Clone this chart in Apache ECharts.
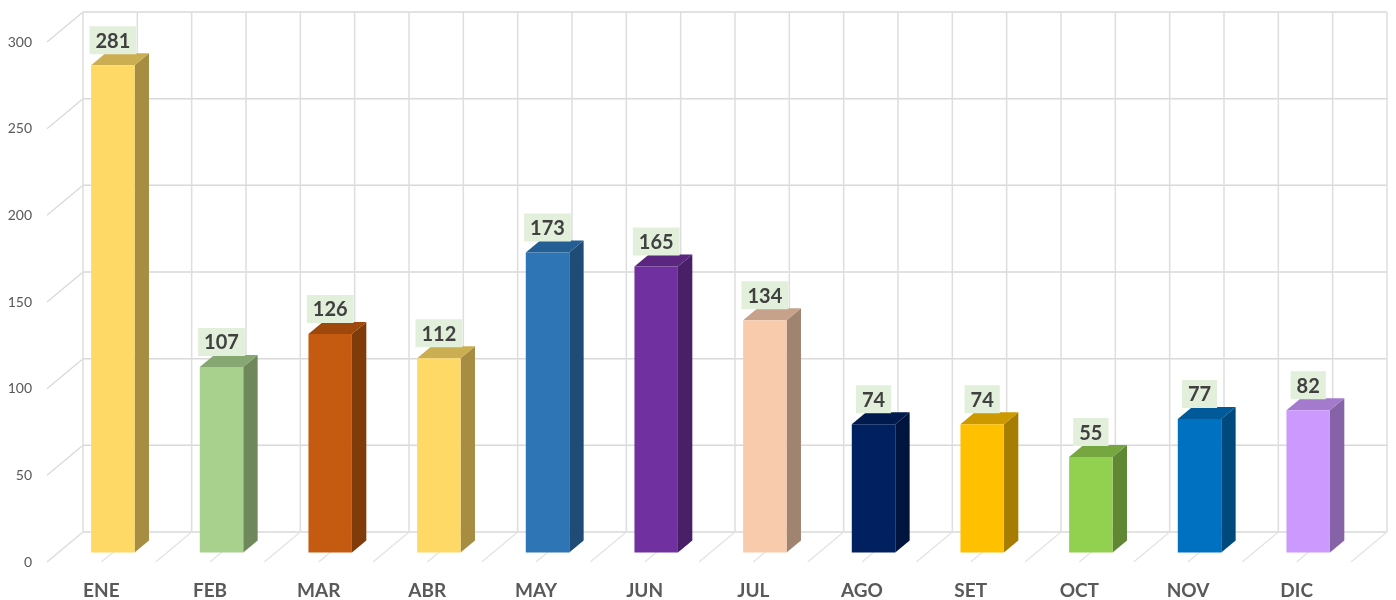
<!DOCTYPE html>
<html>
<head>
<meta charset="utf-8">
<title>Casos por mes</title>
<script src="https://cdn.jsdelivr.net/npm/echarts/dist/echarts.min.js"></script>
<style>
  html, body { margin: 0; padding: 0; background: #fff; }
  #chart { width: 1396px; height: 600px; }
</style>
</head>
<body>
<div id="chart"></div>
<script>
// datos del grafico
var months = ['ENE', 'FEB', 'MAR', 'ABR', 'MAY', 'JUN', 'JUL', 'AGO', 'SET', 'OCT', 'NOV', 'DIC'];
var values = [281, 107, 126, 112, 173, 165, 134, 74, 74, 55, 77, 82];
var barColors = ['#FFD966', '#A9D18E', '#C55A11', '#FFD966', '#2E75B6', '#7030A0',
                 '#F8CBAD', '#002060', '#FFC000', '#92D050', '#0070C0', '#CC99FF'];
var yTicks = [0, 50, 100, 150, 200, 250, 300];

// perspectiva (desplazamiento del fondo respecto al frente)
var DX = 36, DY = -30;
var D_FRONT = 0.32, D_BACK = 0.72, HALF_W = 0.2;

function shade(hex, f) {
  var n = parseInt(hex.slice(1), 16);
  var r = Math.round(((n >> 16) & 255) * f);
  var g = Math.round(((n >> 8) & 255) * f);
  var b = Math.round((n & 255) * f);
  return 'rgb(' + r + ',' + g + ',' + b + ')';
}

// x en unidades de categoria (0..12), v valor, d profundidad 0..1
function pt(api, x, v, d) {
  var base = api.coord([0, v]);
  var band = api.size([1, 0])[0];
  return [base[0] - band / 2 + x * band + d * DX, base[1] + d * DY];
}

var chart = echarts.init(document.getElementById('chart'));

var option = {
  animation: false,
  backgroundColor: '#fff',
  grid: { left: 47, right: 45, top: 42, bottom: 38 },
  xAxis: {
    type: 'category',
    data: months,
    axisLine: { show: false },
    axisTick: { show: false },
    splitLine: { show: false },
    axisLabel: {
      color: '#595959', fontSize: 19, fontWeight: 'bold',
      fontFamily: 'Lato', margin: 19
    }
  },
  yAxis: {
    type: 'value',
    min: 0, max: 300, interval: 50,
    axisLine: { show: false },
    axisTick: { show: false },
    splitLine: { show: false },
    axisLabel: { color: '#595959', fontSize: 14, fontFamily: 'Lato', margin: 15 }
  },
  series: [
    {
      // lineas horizontales de la pared y diagonales izquierdas
      type: 'custom',
      z: 1,
      clip: false,
      silent: true,
      data: yTicks.map(function (v) { return [0, v]; }),
      renderItem: function (params, api) {
        var v = api.value(1);
        var a = pt(api, 0, v, 1), b = pt(api, 12, v, 1), c = pt(api, 0, v, 0);
        return {
          type: 'group',
          children: [
            { type: 'line', shape: { x1: a[0], y1: a[1], x2: b[0], y2: b[1] },
              style: { stroke: '#d9d9d9', lineWidth: 1.5 } },
            { type: 'line', shape: { x1: c[0], y1: c[1], x2: a[0], y2: a[1] },
              style: { stroke: '#d9d9d9', lineWidth: 1.2 } }
          ]
        };
      }
    },
    {
      // lineas verticales de la pared y lineas del piso
      type: 'custom',
      z: 1,
      clip: false,
      silent: true,
      data: months.map(function (m, i) { return [i, 0]; }),
      renderItem: function (params, api) {
        var i = api.value(0);
        var xs = [i, i + 0.5];
        if (i === months.length - 1) xs.push(i + 1);
        var kids = [];
        xs.forEach(function (x) {
          var b0 = pt(api, x, 0, 1), t0 = pt(api, x, 300, 1), f0 = pt(api, x, 0, 0);
          kids.push({ type: 'line', shape: { x1: b0[0], y1: b0[1], x2: t0[0], y2: t0[1] },
            style: { stroke: '#dedede', lineWidth: 1.5 } });
          kids.push({ type: 'line', shape: { x1: f0[0], y1: f0[1], x2: b0[0], y2: b0[1] },
            style: { stroke: '#e3e3e3', lineWidth: 1.2 } });
        });
        return { type: 'group', children: kids };
      }
    },
    {
      // barras 3D
      type: 'custom',
      z: 5,
      clip: false,
      data: values.map(function (v, i) { return [i, v]; }),
      renderItem: function (params, api) {
        var i = api.value(0), v = api.value(1);
        var col = barColors[i];
        var x0 = i + 0.5 - HALF_W, x1 = i + 0.5 + HALF_W;
        var fb0 = pt(api, x0, 0, D_FRONT), fb1 = pt(api, x1, 0, D_FRONT);
        var ft0 = pt(api, x0, v, D_FRONT), ft1 = pt(api, x1, v, D_FRONT);
        var bb1 = pt(api, x1, 0, D_BACK);
        var bt0 = pt(api, x0, v, D_BACK), bt1 = pt(api, x1, v, D_BACK);
        return {
          type: 'group',
          children: [
            { type: 'polygon', shape: { points: [fb1, bb1, bt1, ft1] },
              style: { fill: shade(col, 0.65) } },
            { type: 'polygon', shape: { points: [ft0, ft1, bt1, bt0] },
              style: { fill: shade(col, 0.8) } },
            { type: 'polygon', shape: { points: [fb0, fb1, ft1, ft0] },
              style: { fill: col } },
            { type: 'text', x: (ft0[0] + ft1[0]) / 2, y: bt0[1] + 1,
              style: {
                text: String(v),
                fill: '#404040',
                font: 'bold 20px Lato',
                align: 'center',
                verticalAlign: 'bottom',
                backgroundColor: '#E2EFDA',
                padding: [5, 6, 3, 6]
              } }
          ]
        };
      }
    }
  ]
};

chart.setOption(option);
</script>
</body>
</html>
